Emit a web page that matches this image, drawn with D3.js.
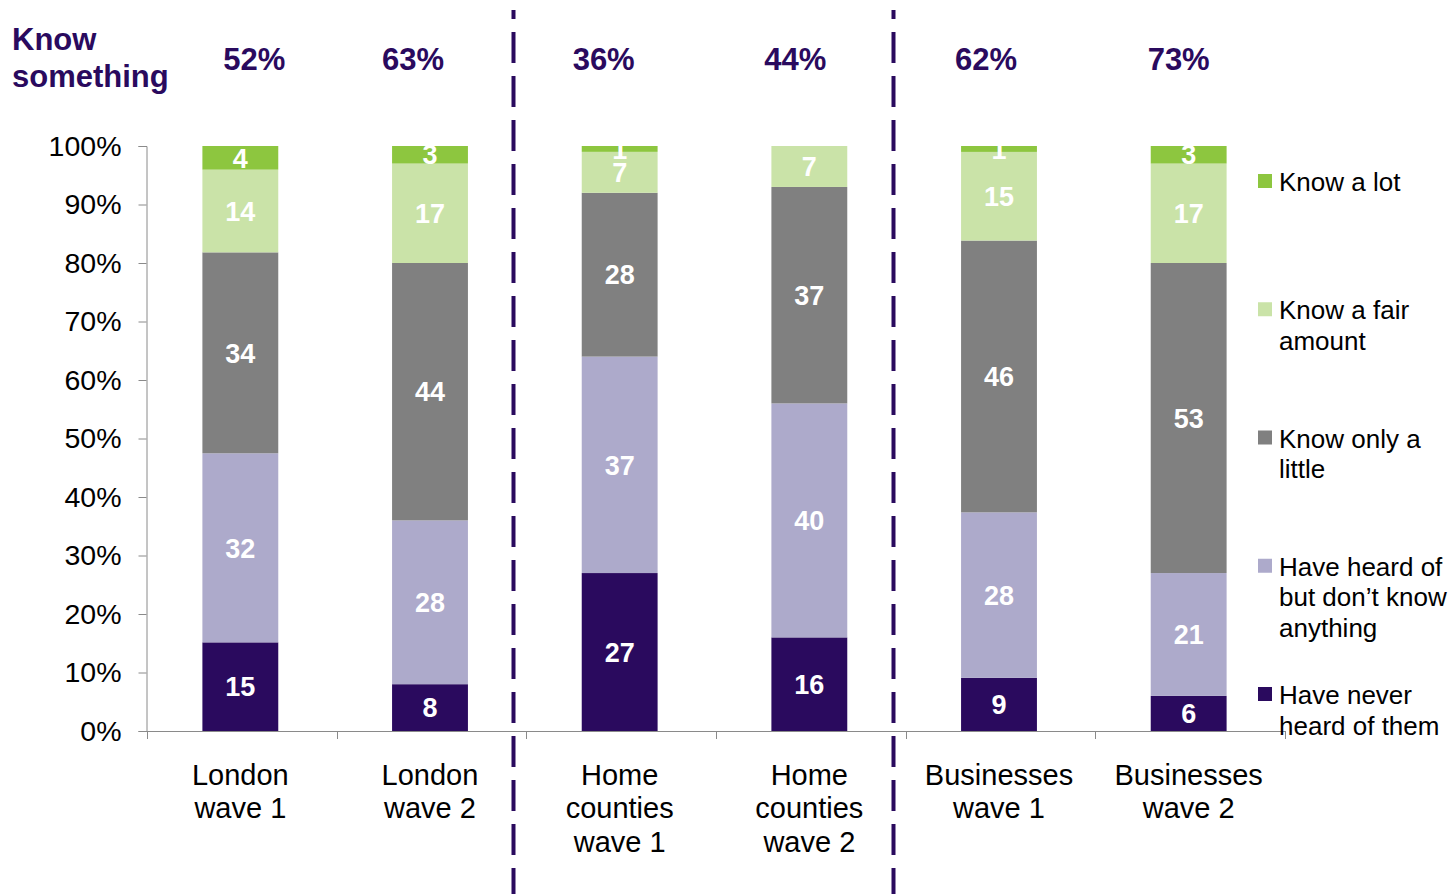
<!DOCTYPE html>
<html><head><meta charset="utf-8">
<script src="https://cdn.jsdelivr.net/npm/d3@7"></script>
<style>html,body{margin:0;padding:0;background:#fff;}svg{display:block;font-family:Arial,"Liberation Sans",sans-serif;}</style>
</head><body>
<svg id="chart" width="1456" height="894"></svg>
<script>
const categories = [["London","wave 1"],["London","wave 2"],["Home","counties","wave 1"],["Home","counties","wave 2"],["Businesses","wave 1"],["Businesses","wave 2"]];
const seriesNames = ["Have never heard of them","Have heard of but don\u2019t know anything","Know only a little","Know a fair amount","Know a lot"];
const legendLines = [["Know a lot"],["Know a fair","amount"],["Know only a","little"],["Have heard of","but don\u2019t know","anything"],["Have never","heard of them"]];
const neverHeard = [15, 8, 27, 16, 9, 6];
const heardOf    = [32, 28, 37, 40, 28, 21];
const onlyLittle = [34, 44, 28, 37, 46, 53];
const fairAmount = [14, 17, 7, 7, 15, 17];
const knowLot    = [4, 3, 1, 0, 1, 3];
const knowSomething = ["52%","63%","36%","44%","62%","73%"];
const headerNudge = [14, -17, -16, -14, -13, -10];
const yTicks = [0,0.1,0.2,0.3,0.4,0.5,0.6,0.7,0.8,0.9,1];
const colors = ["#2A0A5E","#ADAACB","#808080","#CAE3A8","#8DC63F"];

const svg = d3.select("#chart");
const keys = categories.map((c,i)=>"c"+i);
const rows = categories.map((c,i)=>({key:"c"+i, s0:neverHeard[i], s1:heardOf[i], s2:onlyLittle[i], s3:fairAmount[i], s4:knowLot[i]}));
const stack = d3.stack().keys(["s0","s1","s2","s3","s4"]).offset(d3.stackOffsetExpand);
const stacked = stack(rows);

const x = d3.scaleBand().domain(keys).range([145.5,1283.5]).paddingInner(0.6).paddingOuter(0.3);
const y = d3.scaleLinear().domain([0,1]).range([731,146]);

svg.append("defs").append("clipPath").attr("id","plotClip")
  .append("rect").attr("x",140).attr("y",y(1)).attr("width",1150).attr("height",y(0)-y(1));

// y axis
const yAxis = svg.append("g").attr("transform","translate(146.5,0)")
  .call(d3.axisLeft(y).tickValues(yTicks).tickSize(8).tickPadding(17).tickFormat(d3.format(".0%")));
yAxis.select(".domain").attr("stroke","#8a8a8a");
yAxis.selectAll(".tick line").attr("stroke","#8a8a8a");
yAxis.selectAll(".tick text").attr("font-size",28.5).attr("fill","#000").attr("font-family","Arial, 'Liberation Sans', sans-serif");

// x axis
const step = x.step();
svg.append("line").attr("x1",146).attr("x2",1285).attr("y1",731.5).attr("y2",731.5).attr("stroke","#8a8a8a");
d3.range(categories.length+1).forEach(i=>{
  const bx = Math.round(147 + i*step)+0.5;
  svg.append("line").attr("x1",bx).attr("x2",bx).attr("y1",731).attr("y2",739).attr("stroke","#8a8a8a");
});

// bars
const layers = svg.append("g").selectAll("g").data(stacked).join("g").attr("fill",(d,i)=>colors[i]);
layers.selectAll("rect").data(d=>d).join("rect")
  .attr("x",d=>x(d.data.key)).attr("width",x.bandwidth())
  .attr("y",d=>y(d[1])).attr("height",d=>Math.max(0,y(d[0])-y(d[1])));

// data labels
const lbl = svg.append("g").attr("clip-path","url(#plotClip)").attr("font-size",27).attr("font-weight","bold").attr("fill","#fff").attr("text-anchor","middle");
stacked.forEach((layer)=>{
  layer.forEach(d=>{
    const v = d.data[layer.key];
    if(!v) return;
    lbl.append("text").attr("x",x(d.data.key)+x.bandwidth()/2).attr("y",(y(d[0])+y(d[1]))/2).attr("dy","0.36em").text(v);
  });
});

// category labels
const catG = svg.append("g").attr("font-size",29).attr("fill","#000").attr("text-anchor","middle");
categories.forEach((lines,i)=>{
  const cx = x(keys[i])+x.bandwidth()/2;
  const t = catG.append("text").attr("x",cx).attr("y",785);
  lines.forEach((ln,j)=>t.append("tspan").attr("x",cx).attr("dy",j===0?0:33.3).text(ln));
});

// header
const hdr = svg.append("g").attr("font-weight","bold").attr("fill","#2A0A5E");
const ks = hdr.append("text").attr("x",12).attr("y",50).attr("font-size",31);
ks.append("tspan").attr("x",12).text("Know");
ks.append("tspan").attr("x",12).attr("dy",37).text("something");
knowSomething.forEach((v,i)=>{
  hdr.append("text").attr("x",x(keys[i])+x.bandwidth()/2+headerNudge[i]).attr("y",70).attr("font-size",31).attr("text-anchor","middle").text(v);
});

// dividers
[2,4].forEach(i=>{
  const dx = Math.round(147 + i*step) - 12.5;
  svg.append("line").attr("x1",dx).attr("x2",dx).attr("y1",10).attr("y2",894)
    .attr("stroke","#2A0A5E").attr("stroke-width",4).attr("stroke-dasharray","31,13").attr("stroke-dashoffset",22);
});

// legend
const leg = svg.append("g");
legendLines.forEach((lines,i)=>{
  const base = 191 + i*128.25;
  leg.append("rect").attr("x",1258).attr("y",base-17).attr("width",14).attr("height",14).attr("fill",colors[4-i]);
  const t = leg.append("text").attr("x",1279).attr("y",base).attr("font-size",26).attr("fill","#000");
  lines.forEach((ln,j)=>t.append("tspan").attr("x",1279).attr("dy",j===0?0:30.7).text(ln));
});
</script>
</body></html>
